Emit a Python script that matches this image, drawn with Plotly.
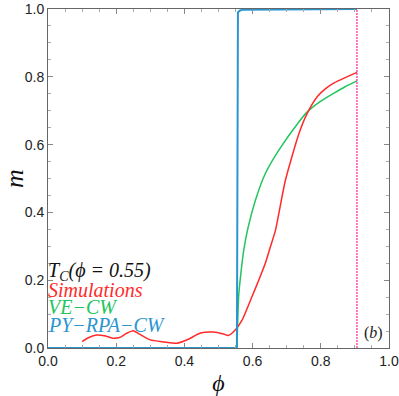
import plotly.graph_objects as go

# Simulations (red)
sim_phi = [0.10, 0.12, 0.143, 0.165, 0.19, 0.21, 0.23, 0.25, 0.27, 0.30, 0.34, 0.378,
           0.41, 0.447, 0.486, 0.515, 0.529, 0.549, 0.569, 0.598, 0.618, 0.637, 0.652,
           0.667, 0.696, 0.735, 0.759, 0.79, 0.815, 0.839, 0.87, 0.906]
sim_m = [0.019, 0.031, 0.038, 0.036, 0.029, 0.031, 0.043, 0.051, 0.040, 0.024, 0.018, 0.014,
         0.025, 0.044, 0.047, 0.041, 0.037, 0.053, 0.082, 0.151, 0.200, 0.249, 0.298,
         0.347, 0.494, 0.630, 0.690, 0.742, 0.766, 0.782, 0.797, 0.813]

# VE-CW (green)
ve_phi = [0.0, 0.552, 0.554, 0.559, 0.565, 0.574, 0.586, 0.608, 0.637, 0.676, 0.735,
          0.759, 0.80, 0.839, 0.87, 0.906]
ve_m = [0.0, 0.0, 0.014, 0.151, 0.215, 0.288, 0.352, 0.435, 0.514, 0.582, 0.666,
        0.695, 0.728, 0.752, 0.770, 0.788]

# PY-RPA-CW (blue)
py_phi = [0.0, 0.554, 0.557, 0.562, 0.57, 0.65, 0.75, 0.85, 0.906]
py_m = [0.0, 0.0, 0.99, 0.995, 0.998, 0.998, 0.999, 0.999, 1.0]

phi_c = 0.906

RED = "#ff2a2a"
GREEN = "#22c55e"
BLUE = "#2b95d0"
MAGENTA = "#ff1f8f"

fig = go.Figure()
fig.add_trace(go.Scatter(x=ve_phi, y=ve_m, mode="lines", line=dict(color=GREEN, width=1.5, shape="spline", smoothing=0.5)))
fig.add_trace(go.Scatter(x=sim_phi, y=sim_m, mode="lines", line=dict(color=RED, width=1.5, shape="spline", smoothing=0.6)))
fig.add_trace(go.Scatter(x=py_phi, y=py_m, mode="lines", line=dict(color=BLUE, width=2)))
fig.add_trace(go.Scatter(x=[phi_c, phi_c], y=[0, 1], mode="lines", line=dict(color=MAGENTA, width=1.2, dash="2px,1px")))

legend = [("T<sub>C</sub>(ϕ = 0.55)", "#111111", 0.226),
          ("Simulations", RED, 0.172),
          ("VE−CW", GREEN, 0.121),
          ("PY−RPA−CW", BLUE, 0.068)]
for text, col, y in legend:
    fig.add_annotation(x=0.0, y=y, xref="x", yref="y", text="<i>" + text + "</i>", showarrow=False,
                       xanchor="left", yanchor="middle", xshift=-2,
                       font=dict(family="Liberation Serif", size=20, color=col))
fig.add_annotation(x=1.0, y=0.045, xref="x", yref="y", text="(<i>b</i>)", showarrow=False,
                   xanchor="right", yanchor="middle", xshift=-4,
                   font=dict(family="Liberation Serif", size=16, color="#222222"))

axis = dict(showline=True, linecolor="#666666", linewidth=1, mirror="ticks", ticks="inside",
            ticklen=5, tickcolor="#888888", showgrid=False, zeroline=False, automargin=False,
            tickfont=dict(family="Liberation Sans", size=14, color="#222222"),
            minor=dict(ticks="inside", ticklen=3, tickcolor="#aaaaaa", dtick=0.05))

fig.update_layout(
    width=399, height=396, showlegend=False,
    plot_bgcolor="white", paper_bgcolor="white",
    margin=dict(l=48, r=10, t=9, b=48),
    xaxis=dict(axis, range=[0, 1], dtick=0.2, tickformat=".1f",
               title=dict(text="<i>ϕ</i>", font=dict(family="Liberation Serif", size=24, color="#111111"), standoff=6)),
    yaxis=dict(axis, range=[0, 1], dtick=0.2, tickformat=".1f",
               title=dict(text="<i>m</i>", font=dict(family="Liberation Serif", size=26, color="#111111"), standoff=8)),
)

fig.write_html("out.html", config={"displayModeBar": False},
               post_script="document.body.style.margin = '0';")
